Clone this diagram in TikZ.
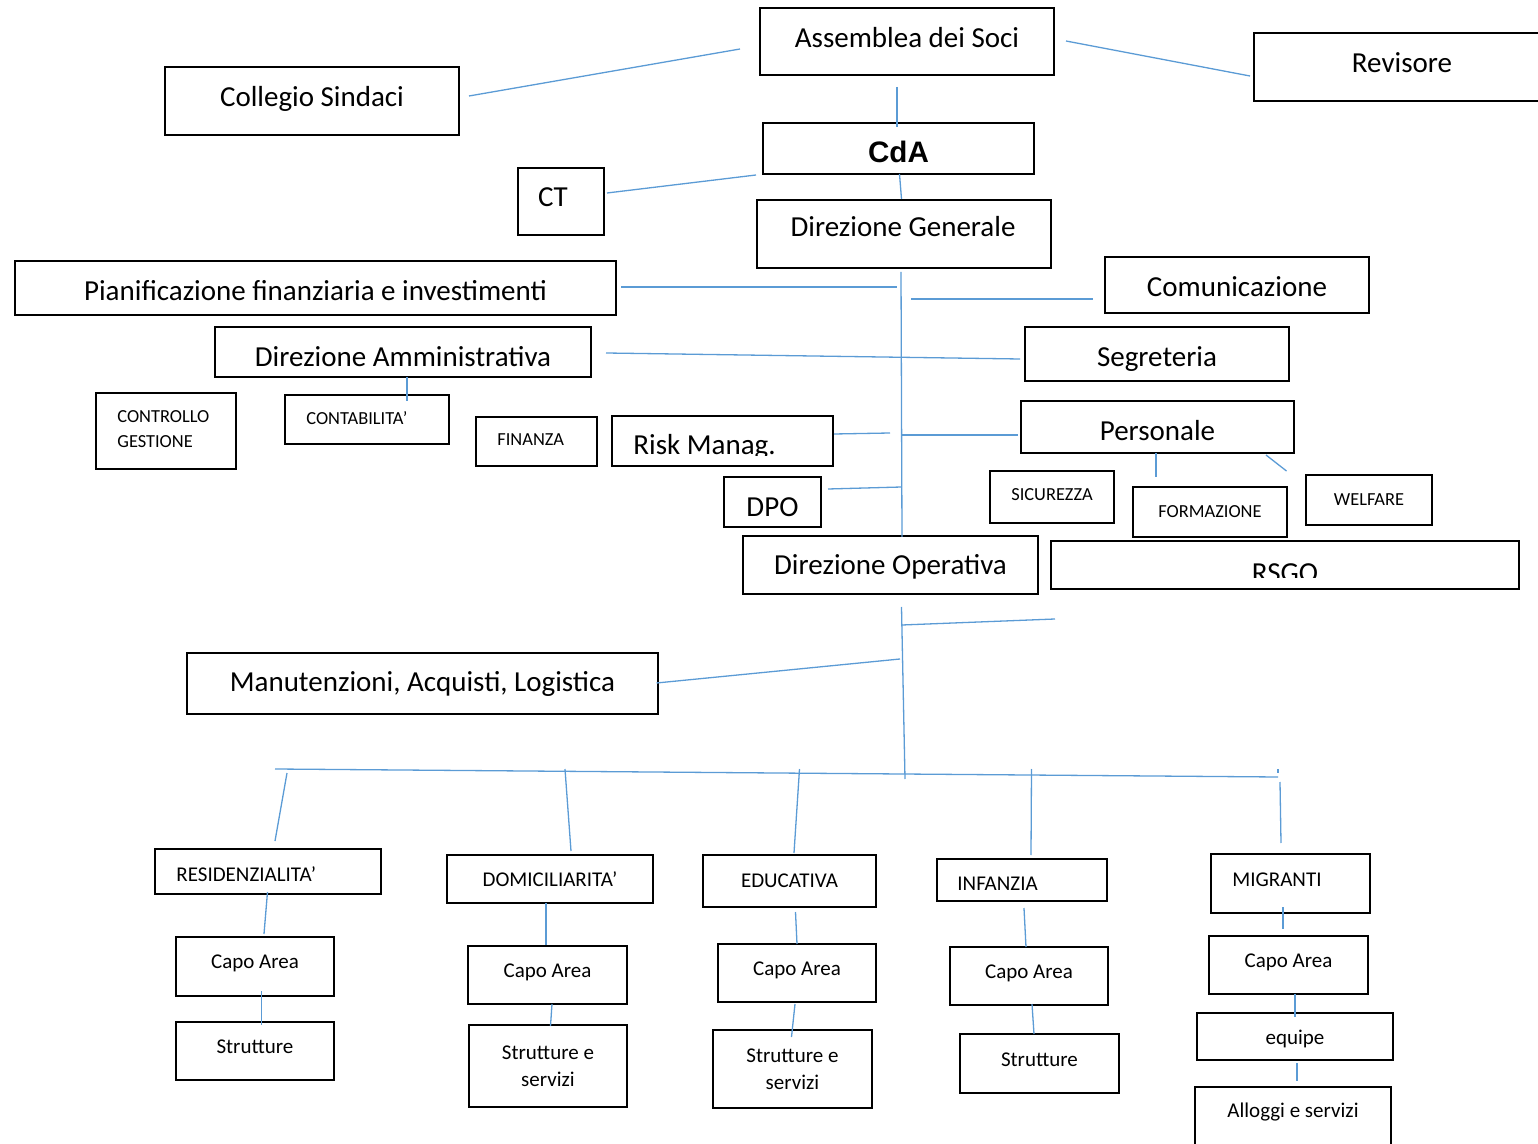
\documentclass[tikz,border=0pt]{standalone}
\usepackage{fontspec}
\setmainfont{Carlito}
\newfontfamily\cdafont{Liberation Sans}
\newcommand\lift[2]{\raisebox{#1}[\height][\depth]{#2}}

\definecolor{linkblue}{RGB}{91,155,213}
\tikzset{box/.style = {draw, line width = 1pt, inner sep = 0pt, outer sep = 0pt},
         wh/.style 2 args = {minimum width = #1*0.5pt, minimum height = #2*0.5pt},
         link/.style = {linkblue, line width = 0.65pt},
         big/.style = {font = \fontsize{14.5}{17}\selectfont},
         mid/.style = {font = \fontsize{10.5}{13.5}\selectfont},
         small/.style = {font = \fontsize{9.2}{12.5}\selectfont}}

\begin{document}
\begin{tikzpicture}% 
    [x = 0.5pt, y = -0.5pt]
    \useasboundingbox (0,0) rectangle (1538,1144);

    % vertice
    \node[box, wh={294}{67}, big] (asm) at (907,41.5) {\lift{2pt}{Assemblea dei Soci}};
    \node[box, wh={296}{68}, big] (rev) at (1402,67) {\lift{2pt}{Revisore}};
    \node[box, wh={294}{68}, big] (cs) at (312,101) {\lift{1pt}{Collegio Sindaci}};
    \node[box, wh={271}{51}, font = \cdafont\bfseries\fontsize{14.8}{17}\selectfont] (cda) at (898.5,148.5) {\lift{-1.5pt}{CdA}};
    \node[box, wh={86}{67}] (ct) at (561,201.5) {};
    \node[big] (ct-t) at (553,197) {CT};
    \node[box, wh={294}{68}] (dg) at (904,234) {};
    \node[big] (dg-t) at (903,227) {Direzione Generale};

    % staff
    \node[box, wh={601}{54}, big] (pfi) at (315.5,288) {\lift{-1.5pt}{Pianificazione finanziaria e investimenti}};
    \node[box, wh={264}{56}, big] (com) at (1237,285) {\lift{-1pt}{Comunicazione}};
    \node[box, wh={376}{50}, big] (dam) at (403,352) {\lift{-2.5pt}{Direzione Amministrativa}};
    \node[box, wh={264}{54}, big] (seg) at (1157,354) {\lift{-2.5pt}{Segreteria}};
    \node[box, wh={140}{76}] (cg) at (166,431) {};
    \node[small, align = left, anchor = west, inner xsep = 0pt] (cg-t) at (117,429) {CONTROLLO\\GESTIONE};
    \node[box, wh={164}{49}] (cont) at (367,419.5) {};
    \node[small, anchor = west, inner xsep = 0pt] (cont-t) at (306,418) {CONTABILITA’};
    \node[box, wh={121}{49}] (fin) at (536.5,441.5) {};
    \node[small, anchor = west, inner xsep = 0pt] (fin-t) at (497,440) {FINANZA};
    \node[box, wh={221}{50}] (risk) at (722.5,441) {};
    \begin{scope}
        \clip (risk.north west) rectangle ([shift={(0,-10)}]risk.south east);
        \node[big, anchor = base west, inner xsep = 0pt] (risk-t) at (633,455) {Risk Manag.};
    \end{scope}
    \node[box, wh={273}{52}, big] (pers) at (1157.5,427) {\lift{-2pt}{Personale}};
    \node[box, wh={97}{50}, big] (dpo) at (772.5,502) {\lift{-2.5pt}{DPO}};
    \node[box, wh={124}{52}, small] (sic) at (1052,497) {\lift{1pt}{SICUREZZA}};
    \node[box, wh={154}{50}, small] (form) at (1210,512) {FORMAZIONE};
    \node[box, wh={126}{50}, small] (welf) at (1369,500) {WELFARE};
    \node[box, wh={295}{58}, big] (dop) at (890.5,565) {\lift{-1pt}{Direzione Operativa}};
    \node[box, wh={468}{48}] (rsgo) at (1285,565) {};
    \begin{scope}
        \clip (rsgo.north west) rectangle ([shift={(0,-11)}]rsgo.south east);
        \node[big, anchor = base] (rsgo-t) at (1285,582) {RSGO};
    \end{scope}
    \node[box, wh={471}{61}, big] (mal) at (422.5,683.5) {Manutenzioni, Acquisti, Logistica};

    % aree
    \node[box, wh={226}{45}] (res) at (268,871.5) {};
    \node[mid, anchor = west, inner xsep = 0pt] (res-t) at (176,874) {RESIDENZIALITA’};
    \node[box, wh={206}{48}, mid] (dom) at (550,879) {DOMICILIARITA’};
    \node[box, wh={173}{52}, mid] (edu) at (789.5,881) {EDUCATIVA};
    \node[box, wh={170}{42}] (inf) at (1022,880) {};
    \node[mid, anchor = west, inner xsep = 0pt] (inf-t) at (957,884) {INFANZIA};
    \node[box, wh={159}{59}] (mig) at (1290.5,883.5) {};
    \node[mid, anchor = west, inner xsep = 0pt] (mig-t) at (1232,880) {MIGRANTI};

    \node[box, wh={158}{59}, mid] (ca1) at (255,966.5) {\lift{1.5pt}{Capo Area}};
    \node[box, wh={159}{58}, mid] (ca2) at (547.5,975) {\lift{1.5pt}{Capo Area}};
    \node[box, wh={158}{58}, mid] (ca3) at (797,973) {\lift{1.5pt}{Capo Area}};
    \node[box, wh={158}{58}, mid] (ca4) at (1029,976) {\lift{1.5pt}{Capo Area}};
    \node[box, wh={159}{58}, mid] (ca5) at (1288.5,965) {\lift{1.5pt}{Capo Area}};

    \node[box, wh={158}{58}, mid] (st1) at (255,1051) {\lift{2pt}{Strutture}};
    \node[box, wh={158}{82}, mid, align = center] (ss2) at (548,1066) {Strutture e\\servizi};
    \node[box, wh={159}{78}, mid, align = center] (ss3) at (792.5,1069) {Strutture e\\servizi};
    \node[box, wh={159}{59}, mid] (st4) at (1039.5,1063.5) {\lift{2pt}{Strutture}};
    \node[box, wh={196}{47}, mid] (equ) at (1295,1036.5) {\lift{-1pt}{equipe}};
    \node[box, wh={196}{83}] (all) at (1293,1128.5) {};
    \node[mid] (all-t) at (1293,1112) {Alloggi e servizi};

    % collegamenti in alto
    \draw[link] ([shift={(10,-5)}]cs.east) -- ([shift={(-20,7.5)}]asm.west);
    \draw[link] ([shift={(12,-0.5)}]asm.east) -- ([shift={(-4,9)}]rev.west);
    \draw[link] ([shift={(-10,12)}]asm.south) -- ([shift={(-1.5,4)}]cda.north);
    \draw[link] ([shift={(3,-8.5)}]ct.east) -- ([shift={(-7,1)}]cda.south west);
    \draw[link] ([shift={(1,0)}]cda.south) -- ([shift={(-2.5,-1)}]dg.north);
    \draw[link] ([shift={(-3,4)}]dg.south) -- ([shift={(11.5,1)}]dop.north);

    \draw[link] ([shift={(5,-1)}]pfi.east) -- ([shift={(-7,19)}]dg.south);
    \draw[link] ([shift={(7,31)}]dg.south) -- ([shift={(-12,14)}]com.west);
    \draw[link] ([shift={(15,1)}]dam.east) -- ([shift={(-5,5)}]seg.west);
    \draw[link] ([shift={(4,0)}]dam.south) -- ([shift={(40,6)}]cont.north);
    \draw[link] ([shift={(1,-7)}]risk.east) -- ([shift={(-14,165)}]dg.south);
    \draw[link] ([shift={(-2,167)}]dg.south) -- ([shift={(-3,8)}]pers.west);
    \draw[link] ([shift={(7,-13)}]dpo.east) -- ([shift={(-2.5,219)}]dg.south);
    \draw[link] ([shift={(-1.5,0)}]pers.south) -- ([shift={(-54,-10)}]form.north);
    \draw[link] ([shift={(-28,2)}]pers.south east) -- ([shift={(-19.5,-4)}]welf.north west);

    % collegamenti in basso
    \draw[link] ([shift={(11,13)}]dop.south) -- ([shift={(14.5,185)}]dop.south);
    \draw[link] ([shift={(11.5,31)}]dop.south) -- ([shift={(4,30)}]rsgo.south west);
    \draw[link] ([shift={(-1.5,-0.5)}]mal.east) -- ([shift={(9.5,65)}]dop.south);
    \draw[link] ([shift={(7,-80)}]res.north) -- ([shift={(-12.5,-77)}]mig.north);

    \draw[link] ([shift={(19,-76)}]res.north) -- ([shift={(7,-8)}]res.north);
    \draw[link] ([shift={(15,-86)}]dom.north) -- ([shift={(21,-4)}]dom.north);
    \draw[link] ([shift={(10,-86)}]edu.north) -- ([shift={(4.5,-2)}]edu.north);
    \draw[link] ([shift={(9.5,-90)}]inf.north) -- ([shift={(9,-4)}]inf.north);
    \draw[link] ([shift={(-12.5,-85)}]mig.north) -- ([shift={(-12.5,-81)}]mig.north);
    \draw[link] ([shift={(-10.5,-72)}]mig.north) -- ([shift={(-9.5,-11)}]mig.north);

    \draw[link] ([shift={(-0.5,-2)}]res.south) -- ([shift={(9,-3)}]ca1.north);
    \draw[link] ([shift={(6.7,-5)}]ca1.south) -- ([shift={(6.7,3)}]st1.north);
    \draw[link] ([shift={(-4,0)}]dom.south) -- ([shift={(-1.5,-1)}]ca2.north);
    \draw[link] ([shift={(4.5,0)}]ca2.south) -- ([shift={(2.5,1)}]ss2.north);
    \draw[link] ([shift={(6,5)}]edu.south) -- (ca3.north);
    \draw[link] ([shift={(-2,2)}]ca3.south) -- ([shift={(-1,7)}]ss3.north);
    \draw[link] ([shift={(2,7)}]inf.south) -- ([shift={(-3,0)}]ca4.north);
    \draw[link] ([shift={(3,-1)}]ca4.south) -- ([shift={(-5.5,0)}]st4.north);
    \draw[link] ([shift={(-7.5,-6)}]mig.south) -- ([shift={(-5.5,-7)}]ca5.north);
    \draw[link] ([shift={(6.5,0)}]ca5.south) -- ([shift={(0,4)}]equ.north);
    \draw[link] ([shift={(2,3)}]equ.south) -- ([shift={(4,-6)}]all.north);
\end{tikzpicture}
\end{document}
